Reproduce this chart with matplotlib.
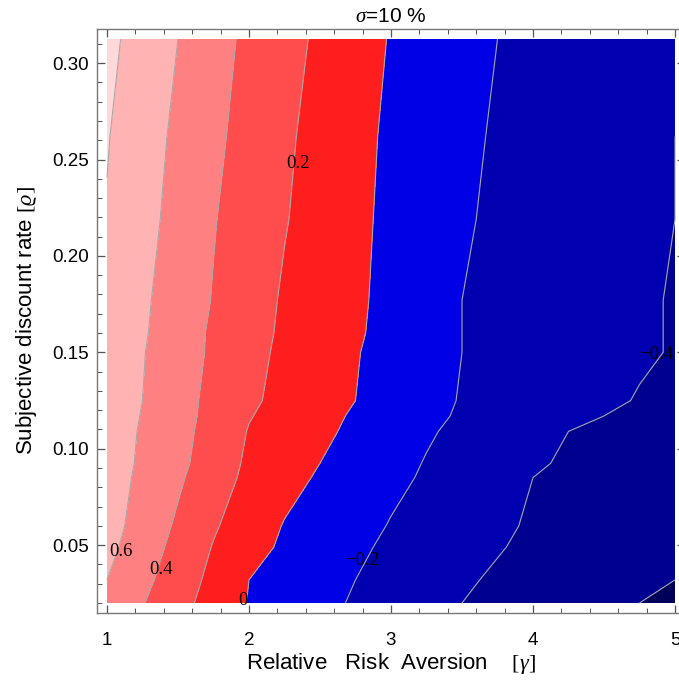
import numpy as np
import matplotlib
matplotlib.use("Agg")
import matplotlib.pyplot as plt
from matplotlib.ticker import MultipleLocator, FixedLocator, FixedFormatter

plt.rcParams['font.family'] = ['Liberation Sans', 'DejaVu Sans']
plt.rcParams['mathtext.fontset'] = 'custom'
plt.rcParams['mathtext.rm'] = 'Liberation Serif'
plt.rcParams['mathtext.it'] = 'Liberation Serif:italic'
plt.rcParams['mathtext.bf'] = 'Liberation Serif:bold'

# ---- data ----
gamma_vals = [1.00, 1.25, 1.50, 1.75, 2.00, 2.25, 2.50, 2.75, 3.00,
              3.25, 3.50, 3.75, 4.00, 4.25, 4.50, 4.75, 5.00]
rho_vals = [0.02, 0.032, 0.049, 0.06, 0.085, 0.0925, 0.109, 0.117, 0.125,
            0.15, 0.16, 0.177, 0.219, 0.262, 0.3125]
z_vals = [
    [0.57, 0.41, 0.26, 0.13, -0.01, -0.08, -0.15, -0.22, -0.28, -0.34, -0.40, -0.44, -0.48, -0.52, -0.56, -0.60, -0.63],
    [0.60, 0.45, 0.30, 0.15, 0.00, -0.07, -0.13, -0.20, -0.26, -0.32, -0.38, -0.42, -0.46, -0.49, -0.53, -0.57, -0.60],
    [0.65, 0.50, 0.34, 0.19, 0.07, -0.03, -0.10, -0.17, -0.23, -0.28, -0.33, -0.39, -0.43, -0.46, -0.50, -0.53, -0.57],
    [0.67, 0.53, 0.37, 0.22, 0.10, -0.01, -0.07, -0.14, -0.21, -0.26, -0.32, -0.37, -0.42, -0.45, -0.48, -0.51, -0.55],
    [0.69, 0.56, 0.43, 0.28, 0.16, 0.06, -0.02, -0.09, -0.16, -0.22, -0.28, -0.34, -0.40, -0.43, -0.45, -0.48, -0.51],
    [0.70, 0.57, 0.45, 0.30, 0.17, 0.08, 0.00, -0.07, -0.14, -0.21, -0.27, -0.33, -0.38, -0.42, -0.45, -0.47, -0.50],
    [0.71, 0.58, 0.46, 0.33, 0.19, 0.11, 0.04, -0.04, -0.11, -0.18, -0.24, -0.29, -0.35, -0.40, -0.43, -0.45, -0.48],
    [0.72, 0.59, 0.47, 0.34, 0.21, 0.13, 0.05, -0.02, -0.09, -0.16, -0.22, -0.27, -0.31, -0.36, -0.40, -0.43, -0.46],
    [0.72, 0.60, 0.47, 0.35, 0.23, 0.15, 0.07, 0.00, -0.07, -0.15, -0.21, -0.25, -0.29, -0.33, -0.37, -0.41, -0.44],
    [0.74, 0.61, 0.49, 0.37, 0.26, 0.16, 0.09, 0.01, -0.06, -0.13, -0.20, -0.24, -0.28, -0.31, -0.35, -0.38, -0.41],
    [0.75, 0.62, 0.50, 0.37, 0.27, 0.17, 0.10, 0.02, -0.05, -0.13, -0.20, -0.24, -0.27, -0.31, -0.35, -0.38, -0.41],
    [0.76, 0.63, 0.51, 0.39, 0.28, 0.18, 0.10, 0.03, -0.05, -0.12, -0.20, -0.24, -0.27, -0.31, -0.34, -0.38, -0.41],
    [0.79, 0.66, 0.54, 0.41, 0.31, 0.21, 0.13, 0.04, -0.04, -0.11, -0.18, -0.23, -0.26, -0.30, -0.34, -0.37, -0.40],
    [0.81, 0.69, 0.56, 0.44, 0.33, 0.23, 0.14, 0.05, -0.03, -0.09, -0.16, -0.22, -0.25, -0.29, -0.33, -0.36, -0.40],
    [0.85, 0.72, 0.60, 0.47, 0.36, 0.26, 0.17, 0.07, -0.01, -0.08, -0.14, -0.20, -0.24, -0.28, -0.32, -0.35, -0.39],
]
contour_levels = [-0.6, -0.4, -0.2, 0.0, 0.2, 0.4, 0.6, 0.8]
band_colors = ['#00005a', '#000090', '#0000b0', '#0000e6',
               '#ff1e1e', '#ff4d4d', '#ff8080', '#ffb3b3', '#ffd9d9']
label_texts = ['0.6', '0.4', '0.2', '0', '\u22120.2', '\u22120.4']
label_pos = [(1.099, 0.0465), (1.380, 0.0374), (2.342, 0.248),
             (1.958, 0.0212), (2.796, 0.0422), (4.866, 0.149)]
x_ticks = [1, 2, 3, 4, 5]
x_ticklabels = ['1', '2', '3', '4', '5']
y_ticks = [0.05, 0.10, 0.15, 0.20, 0.25, 0.30]
y_ticklabels = ['0.05', '0.10', '0.15', '0.20', '0.25', '0.30']

# ---- figure ----
W, H = 679, 690
fig = plt.figure(figsize=(W / 100, H / 100), dpi=100)
ax = fig.add_axes([97 / W, 1 - 613 / H, 588 / W, 584 / H])

G, R = np.meshgrid(gamma_vals, rho_vals)
Z = np.array(z_vals)
fill_levels = [-10] + contour_levels + [10]
ax.contourf(G, R, Z, levels=fill_levels, colors=band_colors)
ax.contour(G, R, Z, levels=contour_levels, colors='#a8a8a8',
           linewidths=0.8, linestyles='solid')

for txt, (gx, ry) in zip(label_texts, label_pos):
    ax.text(gx, ry, txt, ha='center', va='center', fontsize=13.5,
            family=['Liberation Serif', 'DejaVu Serif'], color='black',
            clip_on=False, zorder=5)

xmin, xmax = min(gamma_vals), max(gamma_vals)
ymin, ymax = min(rho_vals), max(rho_vals)
ax.set_xlim(xmin - 10 / 142, xmax + 10 / 142)
ax.set_ylim(ymin - 10 / 1928, ymax + 10 / 1928)

ax.xaxis.set_major_locator(FixedLocator(x_ticks))
ax.xaxis.set_major_formatter(FixedFormatter(x_ticklabels))
ax.yaxis.set_major_locator(FixedLocator(y_ticks))
ax.yaxis.set_major_formatter(FixedFormatter(y_ticklabels))
ax.xaxis.set_minor_locator(MultipleLocator(0.2))
ax.yaxis.set_minor_locator(MultipleLocator(0.01))

frame_col = '#777777'
for sp in ax.spines.values():
    sp.set_color(frame_col)
    sp.set_linewidth(1.0)
ax.tick_params(which='both', direction='in', top=True, right=True,
               color='#555555', labelcolor='black', labelsize=13.5)
ax.tick_params(which='major', length=6, width=0.9)
ax.tick_params(which='minor', length=3.5, width=0.7)
ax.tick_params(axis='x', which='major', pad=14)
ax.tick_params(axis='y', which='major', pad=6)

ax.set_xlabel('Relative   Risk  Aversion    $[\\gamma]$', fontsize=16, labelpad=1)
ax.set_ylabel('Subjective discount rate $[\\varrho]$', fontsize=16, labelpad=9)
fig.text(391 / W, 1 - 17 / H, '$\\sigma$=10 %', ha='center', va='center', fontsize=15)

fig.savefig("out.png", dpi=100)
